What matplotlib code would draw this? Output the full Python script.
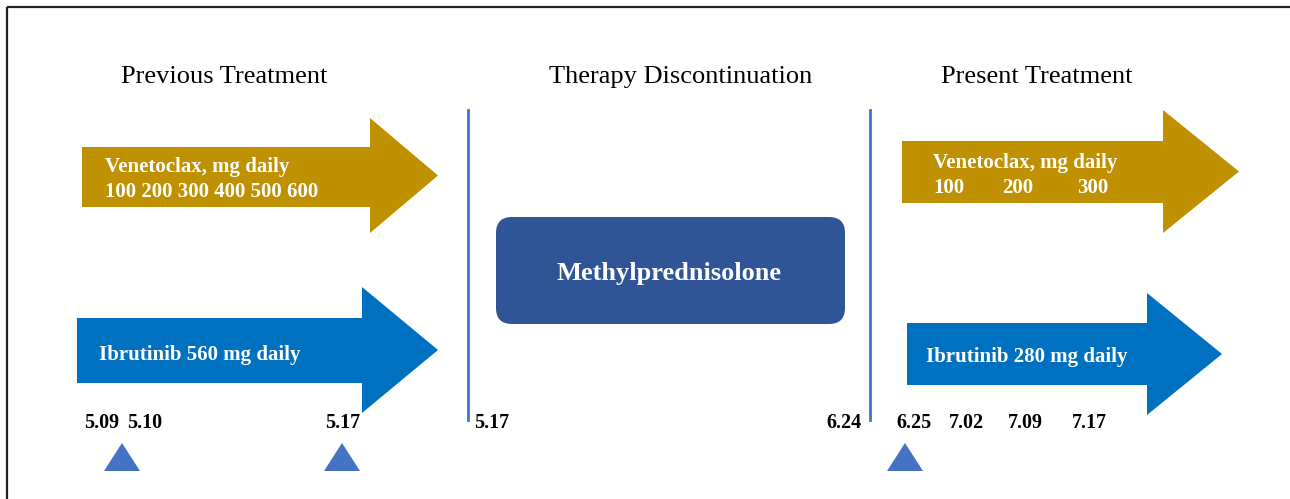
import matplotlib
matplotlib.use("Agg")
import matplotlib.pyplot as plt
from matplotlib.patches import Polygon, FancyBboxPatch

# --- content -------------------------------------------------------------
HEADERS = ["Previous Treatment", "Therapy Discontinuation", "Present Treatment"]
VEN_LABEL = "Venetoclax, mg daily"
VEN_PREV_DOSES = ["100 200 300 400 500 600"]
VEN_PRES_DOSES = ["100", "200", "300"]
IBR_PREV = "Ibrutinib 560 mg daily"
IBR_PRES = "Ibrutinib 280 mg daily"
STEROID = "Methylprednisolone"
DATES = ["5.09", "5.10", "5.17", "5.17", "6.24", "6.25", "7.02", "7.09", "7.17"]
DOSE_DATES = ["5.09", "5.17", "6.25"]  # triangle markers

# --- layout (pixel coordinates, y downward) -------------------------------
W, H = 1290, 499
GOLD = "#BF9000"
BLUE = "#0070C0"
DARK = "#2F5597"
LINE = "#4472C4"
SERIF = ["Liberation Serif", "DejaVu Serif"]

header_x = [224, 681, 1037]
date_x = [84, 127, 325, 474, 826, 896, 949, 1008, 1072]
tri_x = [122, 342, 905]
dose_x = [933, 1002, 1077]

# arrow: x0, x_neck, x_tip, body top, body bottom, head top, head bottom
arrows = [
    (82, 370, 438, 147, 207, 118, 233, GOLD),
    (77, 362, 438, 318, 383, 287, 413, BLUE),
    (902, 1163, 1239, 141, 203, 110, 233, GOLD),
    (907, 1147, 1222, 323, 385, 293, 415, BLUE),
]

fig = plt.figure(figsize=(W / 100, H / 100), dpi=100)
ax = fig.add_axes([0, 0, 1, 1])
ax.set_xlim(0, W)
ax.set_ylim(H, 0)
ax.axis("off")

# frame (only top and left visible)
ax.plot([7, W], [7, 7], color="#222222", lw=1.6, solid_capstyle="butt")
ax.plot([7, 7], [7, H], color="#222222", lw=1.6, solid_capstyle="butt")

for x0, xn, xt, bt, bb, ht, hb, col in arrows:
    tip_y = (ht + hb) / 2
    pts = [(x0, bt), (xn, bt), (xn, ht), (xt, tip_y), (xn, hb), (xn, bb), (x0, bb)]
    ax.add_patch(Polygon(pts, closed=True, facecolor=col, edgecolor="none"))

# separators
for x in (468, 870):
    ax.plot([x, x], [110, 420], color=LINE, lw=2)

# steroid box
ax.add_patch(FancyBboxPatch((508, 229), 325, 83,
                            boxstyle="round,pad=12,rounding_size=16",
                            facecolor=DARK, edgecolor="none"))
ax.text(669, 280, STEROID, color="white", fontsize=19, fontweight="bold",
        family=SERIF, ha="center", va="baseline")

for x, t in zip(header_x, HEADERS):
    ax.text(x, 83, t, fontsize=19, family=SERIF, ha="center", va="baseline")

bold = dict(color="white", fontsize=15, fontweight="bold", family=SERIF, va="baseline")
ax.text(105, 172, VEN_LABEL, **bold)
ax.text(105, 197, VEN_PREV_DOSES[0], **bold)
ax.text(933, 168, VEN_LABEL, **bold)
for x, t in zip(dose_x, VEN_PRES_DOSES):
    ax.text(x, 193, t, **bold)
ax.text(99, 360, IBR_PREV, **bold)
ax.text(926, 362, IBR_PRES, **bold)

for x, t in zip(date_x, DATES):
    ax.text(x, 428, t, fontsize=14.5, fontweight="bold", family=SERIF, va="baseline")

for x, t in zip(tri_x, DOSE_DATES):
    ax.add_patch(Polygon([(x - 18, 471), (x, 443), (x + 18, 471)], closed=True,
                         facecolor=LINE, edgecolor="none"))

fig.savefig("out.png", dpi=100)
